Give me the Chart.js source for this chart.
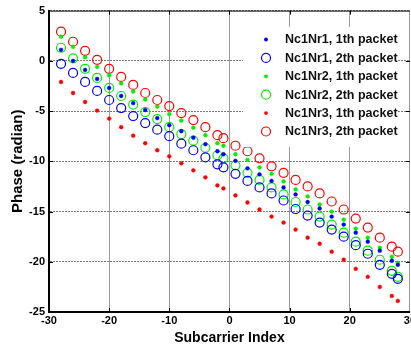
<!DOCTYPE html>
<html><head><meta charset="utf-8">
<script src="https://cdn.jsdelivr.net/npm/chart.js@4/dist/chart.umd.min.js"></script>
<style>html,body{margin:0;padding:0;background:#fff;overflow:hidden;width:411px;height:354px}canvas{display:block}</style>
</head><body>
<canvas id="c" width="418" height="354"></canvas>
<script>
const subcarriers = [-28,-26,-24,-22,-20,-18,-16,-14,-12,-10,-8,-6,-4,-2,-1,1,3,5,7,9,11,13,15,17,19,21,23,25,27,28];
const nr1Packet1 = [1.1,0,-0.9,-1.8,-2.7,-3.5,-4.2,-4.9,-5.7,-6.4,-7.0,-7.65,-8.3,-9.0,-9.3,-9.95,-10.7,-11.3,-11.95,-12.6,-13.3,-14.05,-14.7,-15.5,-16.3,-17.1,-18.0,-18.9,-19.9,-20.3];
const nr1Packet2 = [-0.3,-1.2,-2.1,-3.0,-3.9,-4.7,-5.5,-6.2,-6.85,-7.5,-8.25,-8.9,-9.6,-10.3,-10.6,-11.25,-11.95,-12.6,-13.2,-13.9,-14.75,-15.4,-16.1,-16.8,-17.5,-18.35,-19.2,-20.3,-21.2,-21.7];
const nr2Packet1 = [2.4,1.4,0.35,-0.6,-1.45,-2.25,-3.05,-3.85,-4.55,-5.3,-5.95,-6.65,-7.4,-8.2,-8.45,-9.3,-9.85,-10.6,-11.25,-12.0,-12.8,-13.5,-14.3,-15.0,-15.8,-16.7,-17.6,-18.6,-19.5,-20.1];
const nr2Packet2 = [1.3,0.25,-0.8,-1.7,-2.7,-3.5,-4.35,-5.1,-5.8,-6.6,-7.3,-7.95,-8.65,-9.4,-9.7,-10.4,-11.15,-11.85,-12.6,-13.3,-14.05,-14.8,-15.5,-16.3,-17.1,-18.0,-18.9,-19.8,-20.9,-21.5];
const nr3Packet1 = [-2.1,-3.2,-4.1,-4.95,-5.75,-6.6,-7.45,-8.2,-8.9,-9.5,-10.2,-10.9,-11.6,-12.4,-12.7,-13.4,-14.1,-14.8,-15.5,-16.1,-16.8,-17.6,-18.2,-19.0,-19.8,-20.7,-21.5,-22.5,-23.4,-23.9];
const nr3Packet2 = [2.9,1.9,1.0,0.1,-0.8,-1.6,-2.4,-3.2,-3.9,-4.5,-5.2,-5.9,-6.6,-7.4,-7.7,-8.45,-9.0,-9.7,-10.5,-11.15,-11.85,-12.5,-13.2,-14.0,-14.8,-15.7,-16.6,-17.6,-18.5,-19.0];
const seriesLabels = ['Nc1Nr1, 1th packet','Nc1Nr1, 2th packet','Nc1Nr2, 1th packet','Nc1Nr2, 2th packet','Nc1Nr3, 1th packet','Nc1Nr3, 2th packet'];
const xTitle = 'Subcarrier Index';
const yTitle = 'Phase (radian)';

const FONT = '"Liberation Sans", Arial, sans-serif';
const seriesValues = [nr1Packet1, nr1Packet2, nr2Packet1, nr2Packet2, nr3Packet1, nr3Packet2];
const colors = ['#0000ff','#0000ff','#00f000','#00f000','#ff0000','#ff0000'];
const filled = [true,false,true,false,true,false];

const datasets = seriesValues.map((vals, i) => ({
  label: seriesLabels[i],
  data: subcarriers.map((x, j) => ({x: x, y: vals[j]})),
  showLine: false,
  pointStyle: 'circle',
  pointRadius: filled[i] ? 1.9 : 4.5,
  pointBorderWidth: filled[i] ? 0.5 : 1.2,
  pointBackgroundColor: filled[i] ? colors[i] : 'rgba(0,0,0,0)',
  pointBorderColor: colors[i],
  order: i
}));

const framePlugin = {
  id: 'frame',
  afterDraw(chart) {
    const ctx = chart.ctx, a = chart.chartArea;
    const xs = chart.scales.x, ys = chart.scales.y;
    ctx.save();
    ctx.strokeStyle = '#000'; ctx.lineWidth = 1;
    ctx.beginPath(); ctx.moveTo(a.left, a.top + 0.5); ctx.lineTo(a.right, a.top + 0.5); ctx.stroke();
    [-20,-10,0,10,20].forEach(v => {
      const px = Math.round(xs.getPixelForValue(v)) + 0.5;
      ctx.beginPath(); ctx.moveTo(px, a.top); ctx.lineTo(px, a.top + 4); ctx.stroke();
      ctx.beginPath(); ctx.moveTo(px, a.bottom); ctx.lineTo(px, a.bottom - 4); ctx.stroke();
    });
    [0,-5,-10,-15,-20].forEach(v => {
      const py = Math.round(ys.getPixelForValue(v)) + 0.5;
      ctx.beginPath(); ctx.moveTo(a.right, py); ctx.lineTo(a.right - 4, py); ctx.stroke();
      ctx.beginPath(); ctx.moveTo(a.left, py); ctx.lineTo(a.left + 4, py); ctx.stroke();
    });
    const bx = 243, by = 27, bw = 155, bh = 120;
    ctx.fillStyle = '#fff';
    ctx.fillRect(bx, by, bw, bh);
    ctx.font = 'bold 12.5px ' + FONT;
    ctx.textBaseline = 'middle';
    ctx.textAlign = 'left';
    seriesLabels.forEach((lab, i) => {
      const yy = 39.5 + i * 18.4;
      ctx.beginPath();
      if (filled[i]) {
        ctx.fillStyle = colors[i];
        ctx.arc(266, yy, 1.9, 0, Math.PI * 2); ctx.fill();
      } else {
        ctx.strokeStyle = colors[i]; ctx.lineWidth = 1.2;
        ctx.arc(266, yy, 4.5, 0, Math.PI * 2); ctx.stroke();
      }
      ctx.fillStyle = '#111';
      ctx.fillText(lab, 285, yy + 0.5);
    });
    ctx.restore();
  }
};

new Chart(document.getElementById('c'), {
  type: 'scatter',
  data: { datasets: datasets },
  options: {
    responsive: false,
    animation: false,
    devicePixelRatio: 1,
    layout: { padding: { top: 9, left: 0, right: 0, bottom: 0 } },
    plugins: { legend: { display: false }, tooltip: { enabled: false } },
    scales: {
      x: {
        type: 'linear', min: -30, max: 30,
        ticks: { stepSize: 10, color: '#000', font: { family: FONT, size: 11, weight: 'bold' }, padding: 2, maxRotation: 0 },
        grid: { color: '#9a9a9a', lineWidth: 1, drawTicks: false },
        border: { display: true, color: '#000', width: 2 },
        title: { display: true, text: xTitle, color: '#000', font: { family: FONT, size: 14, weight: 'bold' }, padding: { top: 2, bottom: 7.5 } },
        afterFit(s) { s.height = 42; }
      },
      y: {
        type: 'linear', min: -25, max: 5,
        ticks: { stepSize: 5, color: '#000', font: { family: FONT, size: 11, weight: 'bold' }, padding: 4 },
        grid: { color: '#7a7a7a', lineWidth: 1, drawTicks: false },
        border: { display: true, color: '#000', width: 2, dash: [2,1] },
        title: { display: true, text: yTitle, color: '#000', font: { family: FONT, size: 15, weight: 'bold' }, padding: { top: 8.5, bottom: 4 } },
        afterFit(s) { s.width = 49; }
      }
    }
  },
  plugins: [framePlugin]
});
</script>
</body></html>
